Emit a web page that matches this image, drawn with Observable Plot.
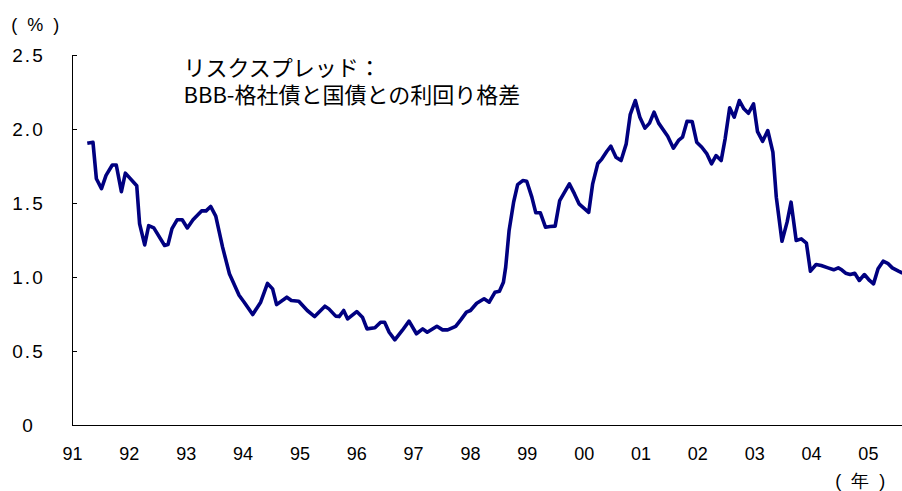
<!DOCTYPE html>
<html><head><meta charset="utf-8">
<script src="https://cdn.jsdelivr.net/npm/d3@7"></script>
<script src="https://cdn.jsdelivr.net/npm/@observablehq/plot@0.6"></script>
<style>body{margin:0;background:#fff} svg{display:block}</style>
</head><body><div id="chart"></div>
<script>
const years = [
1991.26,1991.36,1991.42,1991.51,1991.59,1991.70,1991.77,1991.86,1991.93,1992.13,
1992.18,1992.27,1992.34,1992.43,1992.62,1992.68,1992.75,1992.84,1992.93,1993.02,
1993.12,1993.27,1993.35,1993.43,1993.52,1993.64,1993.76,1993.93,1994.02,1994.17,
1994.31,1994.43,1994.52,1994.59,1994.77,1994.85,1994.98,1995.13,1995.26,1995.44,
1995.51,1995.63,1995.69,1995.77,1995.84,1996.00,1996.10,1996.18,1996.32,1996.42,
1996.49,1996.57,1996.67,1996.80,1996.92,1997.05,1997.16,1997.24,1997.41,1997.51,
1997.60,1997.74,1997.83,1997.93,1998.00,1998.11,1998.24,1998.33,1998.43,1998.51,
1998.58,1998.62,1998.68,1998.76,1998.83,1998.92,1998.99,1999.08,1999.15,1999.23,
1999.32,1999.40,1999.49,1999.57,1999.74,1999.83,1999.91,2000.08,2000.15,2000.24,
2000.31,2000.40,2000.47,2000.56,2000.65,2000.74,2000.81,2000.90,2000.98,2001.07,
2001.15,2001.23,2001.31,2001.47,2001.57,2001.66,2001.73,2001.81,2001.90,2001.98,
2002.07,2002.16,2002.24,2002.32,2002.41,2002.48,2002.56,2002.64,2002.73,2002.81,
2002.89,2002.98,2003.05,2003.14,2003.23,2003.32,2003.38,2003.48,2003.57,2003.64,
2003.73,2003.82,2003.91,2003.98,2004.08,2004.17,2004.29,2004.39,2004.47,2004.53,
2004.60,2004.68,2004.76,2004.84,2004.93,2005.02,2005.09,2005.17,2005.26,2005.34,
2005.42,2005.53,2005.60];
const spread = [
1.907,1.914,1.667,1.60,1.69,1.76,1.76,1.58,1.705,1.62,
1.363,1.22,1.35,1.335,1.216,1.223,1.33,1.39,1.39,1.335,
1.39,1.45,1.45,1.48,1.415,1.205,1.025,0.88,0.833,0.75,
0.833,0.96,0.923,0.817,0.867,0.845,0.84,0.777,0.736,0.806,
0.788,0.739,0.736,0.777,0.72,0.77,0.732,0.653,0.66,0.698,
0.698,0.63,0.579,0.642,0.705,0.62,0.653,0.63,0.67,0.646,
0.646,0.67,0.714,0.766,0.777,0.826,0.856,0.833,0.90,0.907,
0.968,1.07,1.318,1.51,1.628,1.655,1.65,1.543,1.437,1.437,
1.34,1.345,1.347,1.52,1.633,1.565,1.498,1.44,1.633,1.77,
1.80,1.853,1.887,1.813,1.79,1.903,2.10,2.196,2.083,2.009,
2.043,2.117,2.043,1.955,1.874,1.926,1.948,2.056,2.054,1.914,
1.88,1.835,1.768,1.824,1.79,1.937,2.147,2.083,2.196,2.14,
2.11,2.173,1.985,1.92,1.993,1.847,1.543,1.245,1.374,1.509,
1.25,1.261,1.232,1.043,1.088,1.081,1.065,1.052,1.065,1.052,
1.029,1.02,1.029,0.98,1.02,0.98,0.957,1.059,1.11,1.096,
1.065,1.043,1.03];
const yTicks = [0, 0.5, 1, 1.5, 2, 2.5];
const yTickLabels = ["0", "0.5", "1.0", "1.5", "2.0", "2.5"];
const xTicks = [1991,1992,1993,1994,1995,1996,1997,1998,1999,2000,2001,2002,2003,2004,2005];
const xTickLabels = ["91","92","93","94","95","96","97","98","99","00","01","02","03","04","05"];
const titleLines = ["リスクスプレッド：", "BBB-格社債と国債との利回り格差"];
const yUnit = "( % )";
const xUnit = "( 年 )";

const data = years.map((t, i) => ({t, v: spread[i]}));
const sans = "'Liberation Sans', Arial, sans-serif";
const cjk = "'Noto Sans CJK JP', sans-serif";

const chart = Plot.plot({
  width: 902, height: 491,
  marginLeft: 72, marginRight: 0, marginTop: 55, marginBottom: 66,
  x: {domain: [1991, 2005.6]},
  y: {domain: [0, 2.5]},
  style: {background: "#fff", color: "#000"},
  marks: [
    Plot.ruleY([0], {stroke: "#000", strokeWidth: 1}),
    Plot.ruleX([1991], {stroke: "#000", strokeWidth: 1}),
    Plot.axisY({ticks: yTicks, tickSize: -5, tickFormat: () => "", label: null, stroke: "#000"}),
    Plot.axisY({ticks: yTicks, tickSize: 0, tickPadding: 0, dx: -44, textAnchor: "middle",
      tickFormat: d => yTickLabels[yTicks.indexOf(d)], label: null, fontSize: 19, fontFamily: sans, fill: "#000"}),
    Plot.axisX({ticks: xTicks, tickSize: 0, tickPadding: 22,
      tickFormat: d => xTickLabels[xTicks.indexOf(d)], label: null, fontSize: 18, fontFamily: sans, fill: "#000"}),
    Plot.line(data, {x: "t", y: "v", stroke: "#000080", strokeWidth: 3.6, strokeLinejoin: "round", strokeLinecap: "butt"}),
    Plot.text([titleLines.join("\n")], {text: d => d, frameAnchor: "top-left", textAnchor: "start", lineAnchor: "top",
      dx: 111, dy: 2, fontSize: 22, lineHeight: 1.2, fontFamily: cjk, fill: "#000"}),
    Plot.text([yUnit], {text: d => d, frameAnchor: "top-left", textAnchor: "middle", lineAnchor: "middle",
      dx: -36, dy: -30, fontSize: 18, fontFamily: sans, fill: "#000"}),
    Plot.text([xUnit], {text: d => d, frameAnchor: "bottom-right", textAnchor: "middle", lineAnchor: "middle",
      dx: -41, dy: 56, fontSize: 18, fontFamily: sans, fill: "#000"})
  ]
});
document.getElementById("chart").appendChild(chart);
d3.select(chart).selectAll("g[aria-label='y-axis tick label'] text").attr("letter-spacing", "2px");
d3.select(chart).selectAll("g[aria-label='text'] text")
  .filter(function() { return /[%年]/.test(this.textContent); })
  .attr("letter-spacing", "2.5px");
</script></body></html>
